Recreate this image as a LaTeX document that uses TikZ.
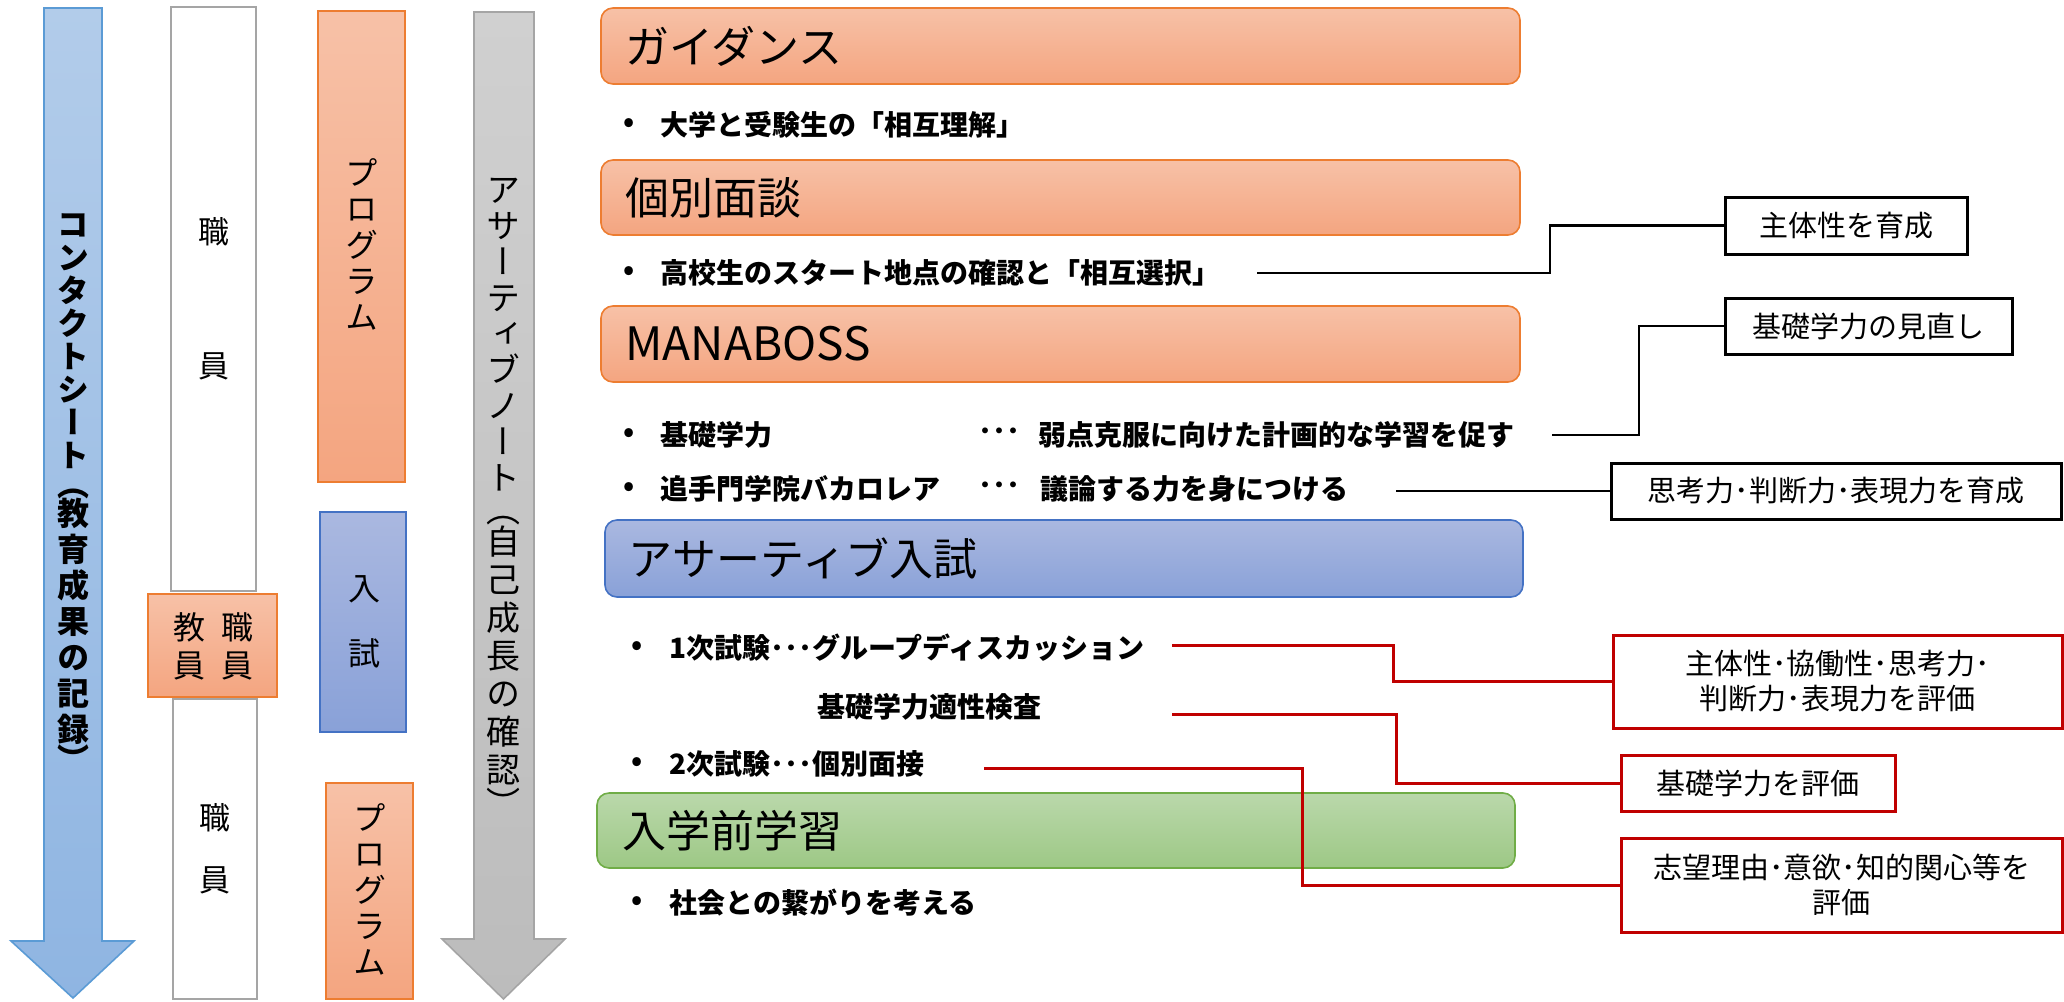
\documentclass[tikz,border=0pt]{standalone}
\usepackage{fontspec}
\setmainfont{Noto Sans CJK JP}
\newfontfamily\vjp[RawFeature=+vert]{Noto Sans CJK JP}
\usetikzlibrary{calc}
\definecolor{orTop}{RGB}{247,193,167}
\definecolor{orBot}{RGB}{244,165,128}
\definecolor{orLine}{RGB}{237,125,49}
\definecolor{blTop}{RGB}{170,184,224}
\definecolor{blBot}{RGB}{137,161,216}
\definecolor{blLine}{RGB}{68,114,196}
\definecolor{grTop}{RGB}{186,216,171}
\definecolor{grBot}{RGB}{157,200,133}
\definecolor{grLine}{RGB}{112,173,71}
\definecolor{abTop}{RGB}{178,204,234}
\definecolor{abBot}{RGB}{143,181,226}
\definecolor{abLine}{RGB}{91,155,213}
\definecolor{agTop}{RGB}{208,208,208}
\definecolor{agBot}{RGB}{188,188,188}
\definecolor{agLine}{RGB}{165,165,165}
\definecolor{redLine}{RGB}{192,0,0}
\begin{document}
\begin{tikzpicture}[x=0.5pt,y=-0.5pt,
  titlebox/.style={draw, rounded corners=6pt, line width=0.8pt, inner sep=0pt},
  orbox/.style={titlebox, draw=orLine, top color=orTop, bottom color=orBot},
  blbox/.style={titlebox, draw=blLine, top color=blTop, bottom color=blBot},
  grbox/.style={titlebox, draw=grLine, top color=grTop, bottom color=grBot},
  orrect/.style={draw=orLine, line width=0.8pt, top color=orTop, bottom color=orBot, inner sep=0pt},
  blrect/.style={draw=blLine, line width=0.8pt, top color=blTop, bottom color=blBot, inner sep=0pt},
  whrect/.style={draw=agLine, line width=1.3pt, fill=white, inner sep=0pt},
  title/.style={anchor=west, inner sep=0pt, font=\fontsize{22pt}{24pt}\selectfont},
  btxt/.style={anchor=west, inner sep=0pt, font=\bfseries\fontsize{14pt}{16pt}\selectfont},
  bdot/.style={inner sep=0pt, font=\bfseries\fontsize{14pt}{16pt}\selectfont},
  wbox/.style={draw=black, line width=1.5pt, fill=white, inner sep=0pt, align=center,
    font=\fontsize{14.5pt}{17.5pt}\selectfont},
  rbox/.style={wbox, draw=redLine},
  vtext/.style={anchor=north, inner sep=0pt, align=center},
  conn/.style={line width=1.35pt, black},
  rconn/.style={line width=1.5pt, redLine}
]
\useasboundingbox (0,0) rectangle (2064,1001);

% ---------- left column ----------
\path[draw=abLine, line width=0.8pt, top color=abTop, bottom color=abBot]
  (44,8) -- (102,8) -- (102,941) -- (134,941) -- (73,998) -- (11,941) -- (44,941) -- cycle;
\node[vtext, font=\vjp\bfseries\fontsize{16pt}{16.5pt}\selectfont] (tcs) at (73,213)
  {コ\\ン\\タ\\ク\\ト\\シ\\ー\\ト\\[-2pt]（\\[-2pt]教\\[1.5pt]育\\[1.5pt]成\\[1.5pt]果\\[1.5pt]の\\[1.5pt]記\\[1.5pt]録\\[-1.5pt]）};

\node[whrect, minimum width=42.5pt, minimum height=292pt] (w1) at (213.5,299) {};
\node[vtext, font=\fontsize{15.5pt}{67pt}\selectfont] (w1t) at (213.5,217) {職\\員};

\node[orrect, minimum width=64.5pt, minimum height=51.5pt] (kb) at (212.5,645.5) {};
\node[inner sep=0pt, align=center, font=\fontsize{16pt}{19pt}\selectfont] (kbt) at (213,646)
  {教\hspace{8pt}職\\員\hspace{8pt}員};

\node[whrect, minimum width=42pt, minimum height=150pt] (w2) at (215,849) {};
\node[vtext, font=\fontsize{15.5pt}{31pt}\selectfont] (w2t) at (215,803) {職\\員};

\node[orrect, minimum width=43.5pt, minimum height=235.5pt] (p1) at (361.5,246.5) {};
\node[vtext, font=\vjp\fontsize{16.5pt}{18pt}\selectfont] (p1t) at (362,158) {プ\\ロ\\グ\\ラ\\ム};

\node[blrect, minimum width=43pt, minimum height=110pt] (ns) at (363,622) {};
\node[vtext, font=\fontsize{16pt}{32.5pt}\selectfont] (nst) at (364,575) {入\\試};

\node[orrect, minimum width=43.5pt, minimum height=108pt] (p2) at (369.5,891) {};
\node[vtext, font=\vjp\fontsize{16.5pt}{18pt}\selectfont] (p2t) at (370,803) {プ\\ロ\\グ\\ラ\\ム};

\path[draw=agLine, line width=0.8pt, top color=agTop, bottom color=agBot]
  (474,12) -- (534,12) -- (534,939) -- (565,939) -- (503.5,999) -- (442,939) -- (474,939) -- cycle;
\node[vtext, font=\vjp\fontsize{17pt}{18pt}\selectfont] (tan) at (503.5,178)
  {ア\\サ\\ー\\テ\\ィ\\ブ\\ノ\\ー\\ト\\[-2pt]（\\[-2pt]自\\[1pt]己\\[1pt]成\\[1pt]長\\[1pt]の\\[1pt]確\\[1pt]認\\[-1pt]）};

% ---------- title bars ----------
\node[orbox, minimum width=459.5pt, minimum height=38pt] (g1) at (1060.5,46) {};
\node[title] (t1) at ([xshift=12.5pt]g1.west) {ガイダンス};
\node[orbox, minimum width=459.5pt, minimum height=37.5pt] (g2) at (1060.5,197.5) {};
\node[title] (t2) at ([xshift=12.5pt]g2.west) {個別面談};
\node[orbox, minimum width=459.5pt, minimum height=38pt] (g3) at (1060.5,344) {};
\node[title, font=\fontsize{23pt}{25pt}\selectfont] (t3) at ([xshift=12.5pt]g3.west) {MANABOSS};
\node[blbox, minimum width=459pt, minimum height=38.5pt] (g4) at (1064,558.5) {};
\node[title] (t4) at ([xshift=12pt]g4.west) {アサーティブ入試};
\node[grbox, minimum width=459pt, minimum height=37.5pt] (g5) at (1056,830.5) {};
\node[title] (t5) at ([xshift=13pt]g5.west) {入学前学習};

% ---------- bullet texts ----------
\node[bdot] (d1) at (629,125) {•};
\node[btxt] (b1) at (660,125) {大学と受験生の「相互理解」};
\node[bdot] (d2) at (629,273) {•};
\node[btxt] (b2) at (660,273) {高校生のスタート地点の確認と「相互選択」};
\node[bdot] (d3) at (629,435) {•};
\node[btxt] (b3) at (660,435) {基礎学力};
\node[btxt] (b3d) at (978,435) {･･･};
\node[btxt] (b3b) at (1038,435) {弱点克服に向けた計画的な学習を促す};
\node[bdot] (d4) at (629,489) {•};
\node[btxt] (b4) at (660,489) {追手門学院バカロレア};
\node[btxt] (b4d) at (978,489) {･･･};
\node[btxt] (b4b) at (1040,489) {議論する力を身につける};
\node[bdot] (d5) at (637,648) {•};
\node[btxt] (b5) at (669,648) {1次試験･･･グループディスカッション};
\node[btxt] (b6) at (817,707) {基礎学力適性検査};
\node[bdot] (d7) at (637,764) {•};
\node[btxt] (b7) at (669,764) {2次試験･･･個別面接};
\node[bdot] (d8) at (637,903) {•};
\node[btxt] (b8) at (669,903) {社会との繋がりを考える};

% ---------- right boxes ----------
\node[wbox, minimum width=121pt, minimum height=28.5pt] (r1) at (1846,225.5) {主体性を育成};
\node[wbox, minimum width=143.5pt, minimum height=28pt] (r2) at (1868.5,326) {基礎学力の見直し};
\node[wbox, minimum width=225pt, minimum height=28pt] (r3) at (1836,491) {思考力･判断力･表現力を育成};
\node[rbox, minimum width=224.5pt, minimum height=46.5pt] (r4) at (1837.5,681.5) {主体性･協働性･思考力･\\判断力･表現力を評価};
\node[rbox, minimum width=137pt, minimum height=28pt] (r5) at (1758,783) {基礎学力を評価};
\node[rbox, minimum width=220.5pt, minimum height=47pt] (r6) at (1841.5,885) {志望理由･意欲･知的関心等を\\評価};

% ---------- connectors ----------
\coordinate (c1) at (1257,273);
\coordinate (c2) at (1552,435);
\coordinate (c3) at (1396,491);
\coordinate (c4) at (1172,645);
\coordinate (c5) at (1172,714);
\coordinate (c6) at (984,768);
\draw[conn] (c1) -- ++(293,0) |- (r1.west);
\draw[conn] (c2) -- ++(87,0) |- (r2.west);
\draw[conn] (c3) -- (r3.west);
\draw[rconn] (c4) -- ++(221,0) |- (r4.west);
\draw[rconn] (c5) -- ++(224,0) |- (r5.west);
\draw[rconn] (c6) -- ++(318,0) |- (r6.west);
\end{tikzpicture}
\end{document}
